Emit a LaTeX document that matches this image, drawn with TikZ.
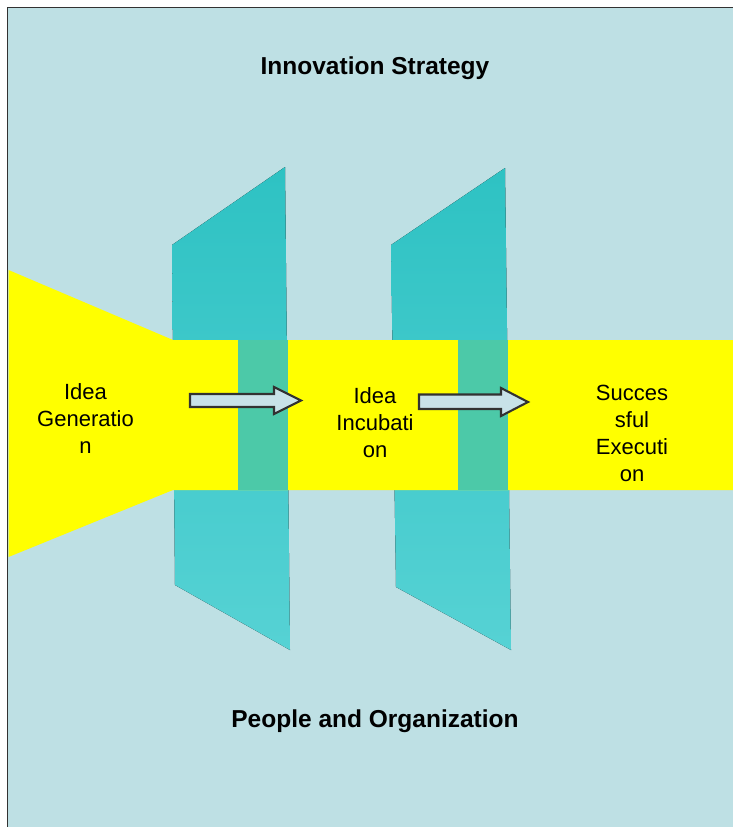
\documentclass[tikz,border=0pt]{standalone}
\usepackage{fontspec}
\setmainfont{Liberation Sans}
\definecolor{bgc}{RGB}{190,224,228}
\definecolor{paneltop}{RGB}{46,194,195}
\definecolor{panelbot}{RGB}{86,210,212}
\definecolor{yel}{RGB}{255,255,0}
\definecolor{overlap}{RGB}{76,201,168}
\definecolor{arrowfill}{RGB}{200,226,232}
\definecolor{framec}{RGB}{50,50,50}
\tikzset{
  panel/.style={top color=paneltop, bottom color=panelbot, draw=none},
  band/.style={fill=yel, draw=none},
  blockarrow/.style={fill=arrowfill, draw=framec, line width=2.1pt, line join=miter},
  stagetext/.style={align=center, font=\fontsize{22}{27}\selectfont, inner sep=0pt, text=black},
  titletext/.style={font=\fontsize{24.5}{28}\selectfont\bfseries, inner sep=0pt, anchor=base, text=black}
}
\begin{document}
\begin{tikzpicture}[x=1pt,y=-1pt]
\useasboundingbox (0,0) rectangle (732,827);
\fill[white] (0,0) rectangle (732,827);
% background frame
\fill[bgc] (7,7) rectangle (760,860);
\draw[framec, line width=1.8pt] (7.5,860) -- (7.5,7.5) -- (760,7.5);
% panels
\fill[panel] (172,245) -- (285,167) -- (290,650) -- (175,585) -- cycle;
\fill[panel] (391,245) -- (505,168) -- (511,650) -- (396,587) -- cycle;
% yellow band
\fill[band] (8.5,270) -- (173,340) -- (740,340) -- (740,490) -- (173,490) -- (8.5,557) -- cycle;
% overlaps (panel in front of band)
\fill[overlap] (238,340) rectangle (288,490);
\fill[overlap] (458,340) rectangle (508,490);
% block arrows
\draw[blockarrow] (190,394) -- (274,394) -- (274,387) -- (301,400.5) -- (274,414) -- (274,407) -- (190,407) -- cycle;
\draw[blockarrow] (419,394.5) -- (501,394.5) -- (501,388) -- (528,402) -- (501,416) -- (501,409) -- (419,409) -- cycle;
% texts
\node[stagetext] (gen) at (85.5,419) {Idea\\Generatio\\n};
\node[stagetext] (inc) at (375,423) {Idea\\Incubati\\on};
\node[stagetext] (exe) at (632,433) {Succes\\sful\\Executi\\on};
\node[titletext] (strat) at (375,74) {Innovation Strategy};
\node[titletext] (people) at (375,727) {People and Organization};
\end{tikzpicture}
\end{document}
